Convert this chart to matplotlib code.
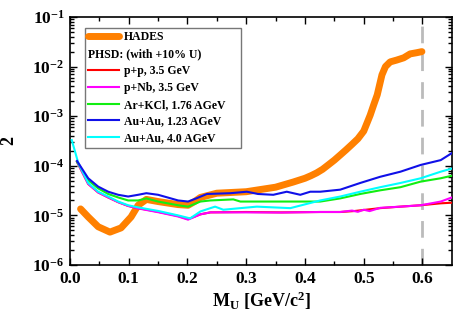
import numpy as np
import matplotlib
matplotlib.use("Agg")
import matplotlib.pyplot as plt
from matplotlib.lines import Line2D
from matplotlib.ticker import FixedLocator, LogLocator, NullFormatter

plt.rcParams["font.family"] = ["Liberation Serif", "DejaVu Serif"]
plt.rcParams["font.weight"] = "bold"
plt.rcParams["mathtext.fontset"] = "custom"
plt.rcParams["mathtext.rm"] = "Liberation Serif:bold"
plt.rcParams["mathtext.bf"] = "Liberation Serif:bold"
plt.rcParams["mathtext.it"] = "Liberation Serif:bold:italic"

# HADES upper limit (thick orange)
hades_x = [0.018, 0.031, 0.048, 0.068, 0.087, 0.104, 0.116, 0.13, 0.15, 0.184,
           0.201, 0.212, 0.222, 0.25, 0.30, 0.35, 0.38, 0.40, 0.41, 0.42, 0.43,
           0.44, 0.45, 0.46, 0.47, 0.48, 0.49, 0.50, 0.505, 0.511, 0.517, 0.523,
           0.531, 0.537, 0.545, 0.556, 0.568, 0.579, 0.59, 0.599]
hades_y = [1.35e-5, 9.3e-6, 5.9e-6, 4.6e-6, 5.6e-6, 9.3e-6, 1.6e-5, 2.1e-5, 1.9e-5, 1.65e-5,
           1.6e-5, 1.9e-5, 2.3e-5, 2.8e-5, 3.0e-5, 3.7e-5, 4.7e-5, 5.6e-5, 6.3e-5, 7.2e-5, 8.5e-5,
           1.05e-4, 1.3e-4, 1.65e-4, 2.1e-4, 2.7e-4, 3.5e-4, 5.0e-4, 7.0e-4, 1.05e-3, 1.7e-3, 2.7e-3,
           6.8e-3, 1.0e-2, 1.24e-2, 1.35e-2, 1.5e-2, 1.8e-2, 1.9e-2, 2.0e-2]

# PHSD curves
pp_x = [0.012, 0.031, 0.048, 0.065, 0.082, 0.099, 0.116, 0.15, 0.184, 0.201,
        0.222, 0.239, 0.30, 0.36, 0.426, 0.46, 0.483, 0.528, 0.5625, 0.597, 0.631, 0.65]
pp_y = [1.2e-4, 4.3e-5, 2.9e-5, 2.3e-5, 1.85e-5, 1.55e-5, 1.4e-5, 1.18e-5, 9.7e-6, 8.4e-6,
        1.05e-5, 1.15e-5, 1.17e-5, 1.15e-5, 1.17e-5, 1.17e-5, 1.22e-5, 1.4e-5, 1.5e-5, 1.6e-5, 1.75e-5, 1.8e-5]

pnb_x = [0.012, 0.031, 0.048, 0.065, 0.082, 0.099, 0.116, 0.15, 0.184, 0.201,
         0.222, 0.239, 0.30, 0.36, 0.426, 0.46, 0.48, 0.49, 0.50, 0.51, 0.528, 0.5625,
         0.597, 0.631, 0.65]
pnb_y = [1.2e-4, 4.3e-5, 2.9e-5, 2.3e-5, 1.85e-5, 1.55e-5, 1.38e-5, 1.16e-5, 9.5e-6, 8.2e-6,
         1.05e-5, 1.15e-5, 1.15e-5, 1.14e-5, 1.17e-5, 1.17e-5, 1.25e-5, 1.18e-5, 1.3e-5, 1.22e-5,
         1.42e-5, 1.5e-5, 1.6e-5, 1.9e-5, 2.3e-5]

arkcl_x = [0.012, 0.031, 0.048, 0.065, 0.082, 0.099, 0.116, 0.13, 0.15, 0.184, 0.201,
           0.222, 0.239, 0.278, 0.29, 0.35, 0.426, 0.46, 0.494, 0.528, 0.5625, 0.597, 0.631, 0.65]
arkcl_y = [1.2e-4, 5.1e-5, 3.5e-5, 2.7e-5, 2.3e-5, 2.0e-5, 2.0e-5, 2.2e-5, 1.9e-5, 1.6e-5, 1.5e-5,
           1.9e-5, 2.0e-5, 2.1e-5, 1.9e-5, 1.9e-5, 1.9e-5, 2.2e-5, 2.7e-5, 3.2e-5, 3.7e-5, 4.8e-5, 5.6e-5, 6.3e-5]

auau123_x = [0.012, 0.031, 0.048, 0.065, 0.082, 0.099, 0.116, 0.13, 0.15, 0.184, 0.201,
             0.215, 0.233, 0.273, 0.301, 0.32, 0.346, 0.369, 0.392, 0.409, 0.426, 0.46,
             0.494, 0.528, 0.5625, 0.597, 0.631, 0.65]
auau123_y = [1.25e-4, 5.6e-5, 3.8e-5, 3.0e-5, 2.6e-5, 2.4e-5, 2.6e-5, 2.8e-5, 2.6e-5, 2.0e-5, 1.9e-5,
             2.2e-5, 2.7e-5, 2.8e-5, 3.0e-5, 2.7e-5, 2.6e-5, 3.0e-5, 2.6e-5, 3.0e-5, 3.0e-5, 3.3e-5,
             4.5e-5, 6.0e-5, 7.6e-5, 1.04e-4, 1.3e-4, 1.8e-4]

auau40_x = [0.003, 0.014, 0.031, 0.048, 0.065, 0.082, 0.099, 0.116, 0.15, 0.184, 0.2045,
            0.222, 0.239, 0.247, 0.261, 0.29, 0.318, 0.375, 0.426, 0.46, 0.494, 0.528,
            0.5625, 0.597, 0.631, 0.65]
auau40_y = [3.3e-4, 1.15e-4, 4.5e-5, 3.0e-5, 2.4e-5, 1.9e-5, 1.6e-5, 1.45e-5, 1.23e-5, 1.0e-5, 8.7e-6,
            1.2e-5, 1.4e-5, 1.5e-5, 1.3e-5, 1.4e-5, 1.5e-5, 1.4e-5, 2.0e-5, 2.4e-5, 3.0e-5, 3.7e-5,
            4.5e-5, 5.6e-5, 7.6e-5, 8.8e-5]

cut_x = 0.6
x_ticks = [0.0, 0.1, 0.2, 0.3, 0.4, 0.5, 0.6]
y_ticks = [1e-6, 1e-5, 1e-4, 1e-3, 1e-2, 1e-1]
y_ticklabels = [r"$\mathrm{10^{-6}}$", r"$\mathrm{10^{-5}}$", r"$\mathrm{10^{-4}}$",
                r"$\mathrm{10^{-3}}$", r"$\mathrm{10^{-2}}$", r"$\mathrm{10^{-1}}$"]

fig = plt.figure(figsize=(4.53, 3.18), dpi=100)
ax = fig.add_axes([0.1545, 0.1667, 0.843, 0.78])

ax.axvline(cut_x, color="#bbbbbb", lw=2, dashes=(6, 4), zorder=1)

ax.plot(hades_x, hades_y, color="#ff8000", lw=5, solid_capstyle="round",
        solid_joinstyle="round", zorder=2)
ax.plot(pp_x, pp_y, color="#ff0000", lw=1.5, zorder=3)
ax.plot(pnb_x, pnb_y, color="#ff00ff", lw=1.5, zorder=3)
ax.plot(arkcl_x, arkcl_y, color="#11ee11", lw=1.5, zorder=3)
ax.plot(auau40_x, auau40_y, color="#00ffff", lw=1.5, zorder=3)
ax.plot(auau123_x, auau123_y, color="#1010e8", lw=1.5, zorder=4)

ax.set_yscale("log")
ax.set_xlim(0, 0.65)
ax.set_ylim(1e-6, 1e-1)

ax.xaxis.set_major_locator(FixedLocator(x_ticks))
ax.xaxis.set_minor_locator(FixedLocator(np.arange(0.05, 0.65, 0.1)))
ax.set_xticklabels([f"{v:.1f}" for v in x_ticks])
ax.yaxis.set_major_locator(FixedLocator(y_ticks))
ax.set_yticklabels(y_ticklabels)
ax.yaxis.set_minor_locator(LogLocator(base=10, subs=np.arange(2, 10)))
ax.yaxis.set_minor_formatter(NullFormatter())

ax.tick_params(which="both", direction="in", top=True, right=True, width=1)
ax.tick_params(which="major", length=5, labelsize=12.5, pad=4)
ax.tick_params(which="minor", length=3)
for sp in ax.spines.values():
    sp.set_linewidth(1.2)

ax.set_xlabel(r"$\mathrm{M_U}$ [GeV/c$^\mathrm{2}$]", fontsize=13, fontweight="bold", labelpad=2)
ax.set_ylabel("2", fontsize=13, fontweight="bold")
ax.yaxis.set_label_coords(-0.138, 0.5)

handles = [
    Line2D([], [], color="#ff8000", lw=5, solid_capstyle="round"),
    Line2D([], [], color="none"),
    Line2D([], [], color="#ff0000", lw=1.5),
    Line2D([], [], color="#ff00ff", lw=1.5),
    Line2D([], [], color="#11ee11", lw=1.5),
    Line2D([], [], color="#1010e8", lw=1.5),
    Line2D([], [], color="#00ffff", lw=1.5),
]
labels = ["HADES", "PHSD: (with +10% U)", "p+p, 3.5 GeV", "p+Nb, 3.5 GeV",
          "Ar+KCl, 1.76 AGeV", "Au+Au, 1.23 AGeV", "Au+Au, 4.0 AGeV"]
fs = 8.5
hl, htp = 2.6, 0.4
leg = ax.legend(handles, labels, loc="upper left", bbox_to_anchor=(0.039, 0.956),
                borderaxespad=0, handlelength=hl, handletextpad=htp,
                labelspacing=0.41, borderpad=0.3, fancybox=False, framealpha=1,
                edgecolor="#777777", prop={"weight": "bold", "size": fs})
leg.get_frame().set_linewidth(1.0)
shift = (hl + htp) * fs * 100 / 72
leg.get_texts()[1].set_position((-shift, 0))

fig.savefig("out.png", dpi=100)
